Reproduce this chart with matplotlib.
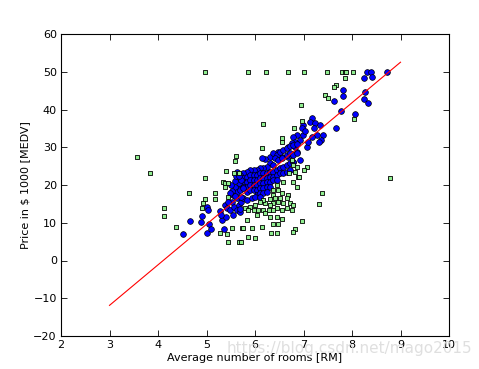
import matplotlib
matplotlib.use("Agg")
import matplotlib.pyplot as plt
import numpy as np

# RANSAC inliers (blue circles)
inlier_rm = [
    8.30, 8.39, 8.72, 8.25, 8.41, 7.82, 7.82, 7.62, 8.27, 8.25, 8.34, 7.77, 8.06, 7.68,
    7.17, 7.13, 7.24, 7.34, 7.41, 7.37, 7.31, 6.99, 6.96, 6.99, 6.86, 6.79, 6.93, 6.83,
    6.76, 7.07, 6.83, 6.69, 6.86, 6.48, 6.31, 6.21, 6.55, 6.69, 6.93, 6.79,
    7.27, 7.17, 7.10, 7.03, 7.21, 6.14,
    6.38, 6.45, 6.52, 6.58, 6.65, 6.72, 6.79, 6.86, 6.41, 6.48, 6.55, 6.65, 6.72, 6.79, 6.86,
    6.31, 6.38, 6.24, 6.17, 6.10, 6.04, 5.97, 5.90, 5.83, 5.76, 5.69,
    5.69, 5.76, 5.83, 5.90, 5.97, 6.04, 6.10, 6.17, 6.24, 6.31, 6.38, 6.45, 6.52, 6.58, 6.65, 6.72, 6.79,
    5.69, 5.76, 5.83, 5.90, 5.97, 6.04, 6.10, 6.17, 6.24, 6.31, 6.38, 6.45, 6.52, 6.58, 6.65, 6.72,
    5.69, 5.76, 5.83, 5.90, 5.97, 6.04, 6.10, 6.17, 6.24, 6.31, 6.38, 6.45,
    5.83, 5.90, 5.97, 6.04, 6.10, 6.17, 6.24, 6.31, 6.04, 6.10, 6.17, 6.24,
    4.51, 4.65, 4.88, 4.90, 5.00, 5.05, 5.00, 5.09, 5.28, 5.31, 5.38, 5.42, 5.40, 5.48,
    5.52, 5.55, 5.57, 5.62, 5.66, 5.72, 5.76, 5.62, 5.45, 5.37, 5.04, 5.30, 5.70,
    5.72, 5.83, 5.93, 6.00, 6.10, 5.70,
    5.59, 5.66, 5.72, 5.62, 5.69, 5.76, 5.55,
    5.58, 5.60, 5.63, 5.52, 5.58, 5.66, 5.48, 5.50,
]
inlier_medv = [
    50.0, 50.0, 50.0, 48.3, 48.7, 45.2, 43.7, 42.2, 44.7, 42.8, 41.6, 39.7, 38.7, 35.0,
    37.7, 36.8, 36.3, 35.9, 33.2, 31.9, 31.5, 35.9, 35.0, 33.2, 33.2, 32.8, 31.9, 31.5,
    31.0, 30.1, 30.1, 30.1, 28.8, 28.8, 27.5, 27.0, 27.5, 27.5, 26.6, 26.2,
    33.2, 32.8, 31.5, 34.2, 35.0, 27.2,
    28.4, 27.9, 28.8, 29.3, 29.7, 30.2, 30.6, 30.9, 27.1, 26.6, 27.1, 27.9, 28.4, 27.9, 28.4,
    25.7, 25.3, 24.9, 24.4, 24.4, 24.0, 24.0, 24.0, 23.5, 23.1, 22.6,
    21.8, 21.8, 22.2, 22.6, 22.6, 22.6, 23.1, 23.1, 23.1, 23.5, 23.5, 24.0, 24.4, 24.9, 25.3, 25.7, 26.2,
    20.4, 20.9, 20.9, 21.3, 21.3, 21.3, 21.8, 21.8, 21.8, 22.2, 22.2, 22.6, 23.1, 23.1, 23.5, 24.0,
    19.1, 19.6, 19.6, 20.0, 20.0, 20.0, 20.4, 20.4, 20.9, 20.9, 21.3, 21.3,
    18.2, 18.7, 18.7, 18.7, 19.1, 19.1, 19.6, 19.6, 17.4, 17.8, 17.8, 18.2,
    7.0, 10.5, 10.3, 11.8, 14.3, 9.7, 7.4, 8.3, 13.2, 10.6, 14.7, 14.0, 11.5, 13.4,
    15.6, 12.0, 14.3, 13.4, 14.7, 15.6, 16.5, 16.5, 15.6, 8.3, 13.4, 12.0, 12.8,
    16.9, 16.0, 16.5, 16.9, 16.9, 13.6,
    19.6, 20.4, 21.3, 18.2, 18.7, 19.1, 17.4,
    21.0, 22.3, 23.5, 18.5, 17.0, 22.5, 17.9, 20.0,
]

# RANSAC outliers (light green squares)
outlier_rm = [
    4.96, 5.86, 6.22, 6.68, 7.02, 7.48, 7.80, 7.85, 7.88, 8.03,
    7.86, 7.68, 7.63, 7.44, 7.51, 6.94, 6.16, 6.96, 6.81, 8.05, 8.78, 6.55, 6.55, 6.15,
    5.61, 5.59, 5.40, 5.57, 5.66, 4.97, 5.35, 5.38, 5.44, 5.38, 5.18, 4.63, 4.97, 5.45,
    3.56, 3.84, 4.13, 4.13, 4.37, 4.93, 4.90,
    5.18, 5.28, 5.42, 5.53, 5.45, 5.67, 5.74,
    6.76, 6.79, 6.71, 6.83, 6.89, 6.58, 6.45, 6.38, 6.48, 6.38, 6.55, 6.69, 6.79, 6.86,
    6.87, 7.07, 7.00, 6.91, 7.39, 7.31, 6.97, 6.83, 6.78,
    6.31, 6.41, 6.52, 6.65, 6.72, 6.58, 6.48, 6.38, 6.31, 6.21, 6.17, 6.10, 6.00, 5.90,
    5.79, 5.86, 5.97, 6.07, 6.17, 6.28, 6.38, 6.45, 6.55, 6.65, 6.76, 6.79, 6.04, 6.21,
    6.31, 6.45, 6.55, 5.83, 5.76, 5.93, 6.14, 6.38, 6.48, 6.34, 6.45, 5.86, 6.00, 5.72,
]
outlier_medv = [
    50.0, 50.0, 50.0, 50.0, 50.0, 50.0, 50.0, 50.0, 50.0, 50.0,
    48.3, 46.5, 45.9, 43.8, 43.0, 41.2, 36.1, 37.0, 35.0, 37.5, 21.8, 32.4, 31.5, 29.7,
    27.8, 26.4, 23.7, 23.1, 23.1, 21.8, 20.9, 20.4, 20.6, 19.6, 17.8, 17.8, 16.2, 16.9,
    27.5, 23.2, 13.8, 11.9, 8.8, 15.1, 13.8,
    16.3, 7.2, 7.0, 8.5, 5.0, 5.0, 8.5,
    26.6, 25.3, 23.1, 23.5, 22.2, 20.9, 20.0, 18.7, 18.7, 17.4, 17.8, 17.4, 20.9, 19.6,
    24.7, 24.9, 24.0, 22.0, 17.9, 15.0, 10.4, 8.3, 7.5,
    16.3, 16.5, 16.6, 16.5, 15.1, 15.1, 15.6, 15.1, 14.7, 15.1, 16.0, 15.6, 14.7, 14.3,
    13.8, 13.4, 13.4, 13.4, 13.4, 13.4, 13.4, 13.8, 13.4, 13.8, 13.4, 14.7, 12.0, 12.5,
    11.6, 11.6, 11.0, 10.7, 8.5, 8.5, 8.8, 9.6, 9.6, 7.2, 7.2, 6.3, 5.9, 5.0,
]

# fitted line
line_x = [3, 9]
slope = 10.735
intercept = -44.089

x_ticks = [2, 3, 4, 5, 6, 7, 8, 9, 10]
y_ticks = [-20, -10, 0, 10, 20, 30, 40, 50, 60]

W, H = 479, 369
fig = plt.figure(figsize=(W / 100, H / 100), dpi=100)
ax = fig.add_axes([61 / W, 1 - 336 / H, (449 - 61) / W, (336 - 34) / H])

ax.scatter(inlier_rm, inlier_medv, c='blue', marker='o', s=17,
           edgecolors='black', linewidths=0.5, zorder=2)
ax.scatter(outlier_rm, outlier_medv, c='lightgreen', marker='s', s=10,
           edgecolors='black', linewidths=0.6, zorder=2)
lx = np.array(line_x, dtype=float)
ax.plot(lx, slope * lx + intercept, color='red', lw=0.8, zorder=3)

ax.set_xlim(2, 10)
ax.set_ylim(-20, 60)
ax.set_xticks(x_ticks)
ax.set_yticks(y_ticks)
ax.tick_params(direction='in', top=True, right=True, length=4, width=0.6,
               labelsize=8, pad=3)
for sp in ax.spines.values():
    sp.set_linewidth(0.8)
ax.set_xlabel('Average number of rooms [RM]', fontsize=8, labelpad=2)
ax.set_ylabel('Price in $ 1000 [MEDV]', fontsize=8, labelpad=2)

fig.text(0.985, 0.035, 'https://blog.csdn.net/mago2015', ha='right', va='bottom',
         fontsize=11, color='#dcdcdc', alpha=0.9)

fig.savefig('out.png', dpi=100)
